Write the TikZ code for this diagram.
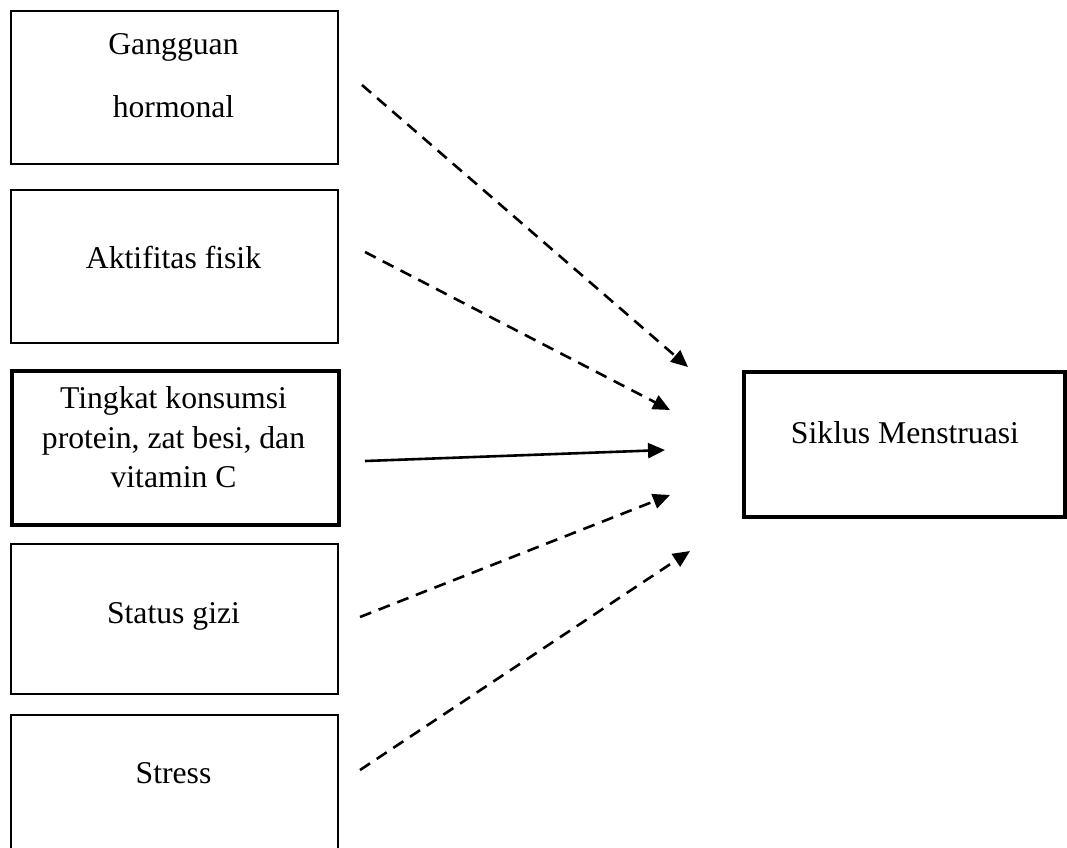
\documentclass[tikz,border=0pt]{standalone}
\usepackage{fontspec}
\setmainfont{Liberation Serif}
\usetikzlibrary{arrows.meta}
\begin{document}
\begin{tikzpicture}[x=1pt,y=-1pt,
 box/.style={draw, line width=2pt, minimum width=327pt, anchor=north west, inner sep=0pt},
 thickbox/.style={box, line width=4pt},
 lbl/.style={anchor=base, inner sep=0pt, font=\fontsize{31.7}{40}\selectfont},
 dep/.style={line width=2.6pt, dash pattern=on 12pt off 8pt, -{Triangle[length=17pt,width=15pt]}},
 sol/.style={line width=2.6pt, -{Triangle[length=17pt,width=15pt]}}]
\useasboundingbox (0,0) rectangle (1067,847);
\clip (0,0) rectangle (1067,847);
% boxes
\node[box, minimum height=153pt] (b1) at (10,10) {};
\node[box, minimum height=153pt] (b2) at (10,189) {};
\node[thickbox, minimum height=154pt] (b3) at (10,369) {};
\node[box, minimum height=150pt] (b4) at (10,543) {};
\node[box, minimum height=160pt] (b5) at (10,714) {};
\node[thickbox, minimum width=321pt, minimum height=145pt] (r) at (742,370) {};
% texts
\node[lbl] (t1a) at (173.5,54) {Gangguan};
\node[lbl] (t1b) at (173.5,117) {hormonal};
\node[lbl] (t2) at (173.5,268) {Aktifitas fisik};
\node[lbl] (t3a) at (173.5,408) {Tingkat konsumsi};
\node[lbl] (t3b) at (173.5,448) {protein, zat besi, dan};
\node[lbl] (t3c) at (173.5,487) {vitamin C};
\node[lbl] (t4) at (173.5,623) {Status gizi};
\node[lbl] (t5) at (173.5,783) {Stress};
\node[lbl] (tr) at (905,443) {Siklus Menstruasi};
% arrow endpoints
\coordinate (s1) at (362,85);   \coordinate (e1) at (688,367);
\coordinate (s2) at (365,252);  \coordinate (e2) at (670,410);
\coordinate (s3) at (365,461);  \coordinate (e3) at (665,450);
\coordinate (s4) at (360,617);  \coordinate (e4) at (670,495);
\coordinate (s5) at (360,770);  \coordinate (e5) at (690,551);
\draw[dep] (s1) -- (e1);
\draw[dep] (s2) -- (e2);
\draw[sol] (s3) -- (e3);
\draw[dep] (s4) -- (e4);
\draw[dep] (s5) -- (e5);
\end{tikzpicture}
\end{document}
